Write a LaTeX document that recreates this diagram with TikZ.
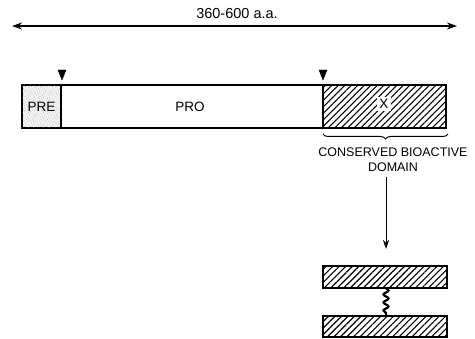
\documentclass[tikz,border=0pt]{standalone}
\usepackage{fontspec}
\setmainfont{Liberation Sans}
\usetikzlibrary{patterns,patterns.meta,arrows.meta,decorations.pathreplacing,decorations.pathmorphing}
\begin{document}
\begin{tikzpicture}[x=1pt,y=-1pt,
  seg/.style={draw,line width=1.1pt},
  hatch/.style={seg,pattern={Lines[angle=45,distance=4.6pt,line width=1.1pt]},pattern color=black},
  stipple/.style={seg,fill=gray!10,postaction={pattern={Dots[angle=30,distance=2.6pt,radius=0.4pt]},pattern color=gray!85}},
  lbl/.style={font=\fontsize{13.5}{15}\selectfont,inner sep=1pt},
  cleave/.style={fill=black,draw=black,line width=0.4pt},
  conn/.style={line width=0.8pt}]
\useasboundingbox (0,0) rectangle (475,339);
% length arrow
\coordinate (la) at (12,26);
\coordinate (lb) at (457,26);
\draw[line width=1.1pt,{Stealth[length=10pt,width=7pt]}-{Stealth[length=10pt,width=7pt]}] (la) -- (lb);
\node[font=\fontsize{14.5}{16}\selectfont] (len) at (237,14) {360-600 a.a.};
% main bar
\draw[stipple] (22,85) rectangle (61,128);
\node[lbl] (pre) at (41.5,106.5) {PRE};
\draw[seg] (61,85) rectangle (323,128);
\node[lbl] (pro) at (190,106.5) {PRO};
\draw[hatch] (323,85) rectangle (446,128);
\node[lbl,fill=white,inner sep=2.5pt] (x) at (384,104) {X};
% cleavage triangles
\draw[cleave] (58,70) -- (66,70) -- (62,80) -- cycle;
\draw[cleave] (319,70) -- (327,70) -- (323,80) -- cycle;
% brace
\draw[line width=1pt,decorate,decoration={brace,mirror,amplitude=5pt}] (323,134) -- (448,134);
\node[font=\fontsize{12.5}{15}\selectfont,align=center] (dom) at (393,160) {CONSERVED BIOACTIVE\\DOMAIN};
% arrow down
\coordinate (ta) at (386,177);
\draw[conn,-{Stealth[length=9pt,width=6pt]}] (ta) -- (386,249);
% bioactive product
\draw[hatch] (323,266) rectangle (447,288);
\draw[hatch] (323,316) rectangle (447,337);
\draw[line width=2.2pt,decorate,decoration={snake,segment length=8pt,amplitude=2.5pt}] (386,288) -- (386,316);
\end{tikzpicture}
\end{document}
